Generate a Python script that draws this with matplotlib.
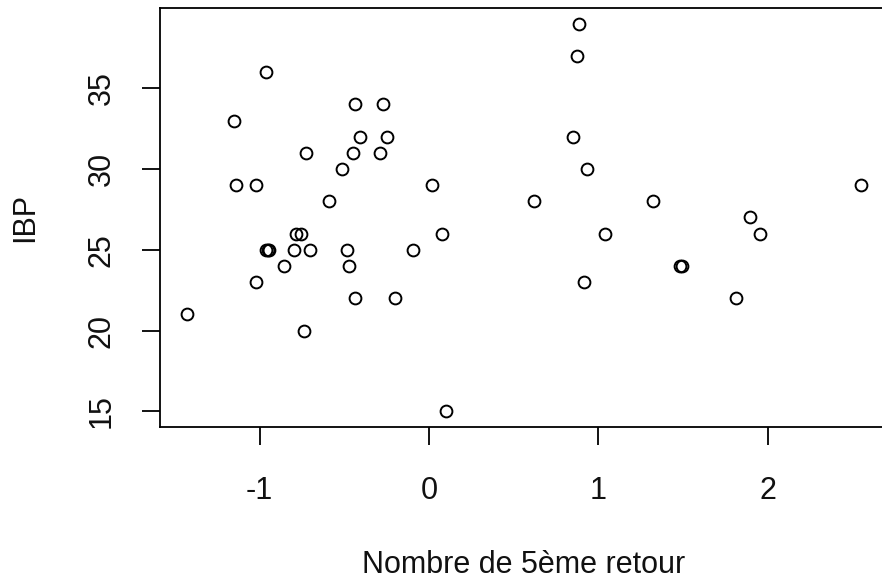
import matplotlib
matplotlib.use("Agg")
import matplotlib.pyplot as plt

plt.rcParams["font.family"] = ["Liberation Sans", "DejaVu Sans"]
plt.rcParams["axes.unicode_minus"] = False

# Nombre de 5ème retour (standardised) vs IBP
x_vals = [-1.428, -1.15, -1.139, -1.021, -1.021, -0.962, -0.96, -0.95, -0.944,
          -0.855, -0.796, -0.785, -0.755, -0.737, -0.726, -0.702, -0.59,
          -0.513, -0.484, -0.472, -0.448, -0.437, -0.437, -0.407, -0.289,
          -0.271, -0.248, -0.20, -0.094, 0.018, 0.077, 0.10, 0.619, 0.85,
          0.873, 0.885, 0.914, 0.932, 1.038, 1.32, 1.482, 1.49, 1.81, 1.894,
          1.953, 2.549]
ibp = [21, 33, 29, 29, 23, 36, 25, 25, 25,
       24, 25, 26, 26, 20, 31, 25, 28,
       30, 25, 24, 31, 34, 22, 32, 31,
       34, 32, 22, 25, 29, 26, 15, 28, 32,
       37, 39, 23, 30, 26, 28, 24, 24, 22, 27,
       26, 29]
xticks = [-1, 0, 1, 2]
yticks = [15, 20, 25, 30, 35]

fig = plt.figure(figsize=(8.82, 5.85), dpi=100)
ax = fig.add_axes([160/882, 158/585, 728/882, 419/585])

ax.plot(x_vals, ibp, linestyle="none", marker="o", markersize=8.5,
        markerfacecolor="none", markeredgecolor="black", markeredgewidth=1.4)
ax.margins(x=0.04, y=0.04)

ax.set_xticks(xticks)
ax.set_yticks(yticks)
ax.set_yticklabels([str(v) for v in yticks], rotation=90, va="center")
ax.tick_params(direction="out", length=13, width=1.3, labelsize=22, pad=18,
               labelcolor="#111111")
ax.tick_params(axis="x", pad=22)

for s in ax.spines.values():
    s.set_linewidth(1.3)

ax.set_xlabel("Nombre de 5ème retour", fontsize=22, va="center", color="#111111")
ax.xaxis.set_label_coords(0.5, -0.33)
ax.set_ylabel("IBP", fontsize=22, va="center", color="#111111")
ax.yaxis.set_label_coords(-0.185, 0.5)

fig.savefig("out.png", dpi=100)
